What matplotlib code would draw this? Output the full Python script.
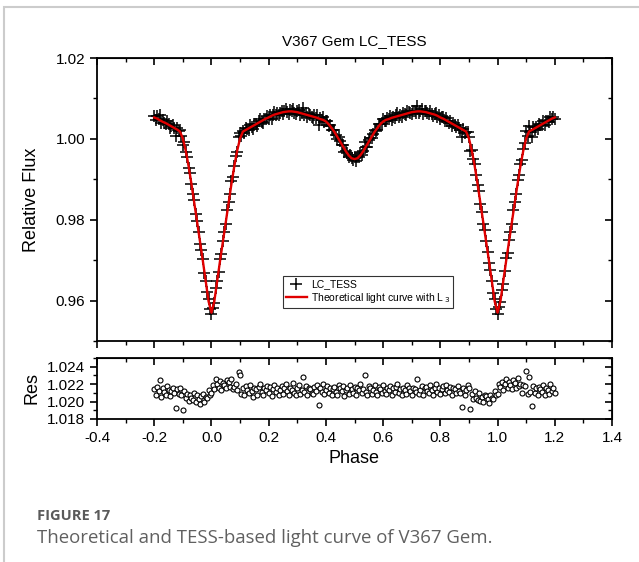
import numpy as np
import matplotlib
matplotlib.use("Agg")
import matplotlib.pyplot as plt
from matplotlib.ticker import MultipleLocator, FormatStrFormatter
from matplotlib.patches import Rectangle

plt.rcParams['font.family'] = ['Liberation Sans', 'DejaVu Sans']

# Data
phase = np.round(np.arange(-0.2, 1.2001, 0.005), 3)

obs_flux = [
    1.0056, 1.0047, 1.0056, 1.0049, 1.0060, 1.0038, 1.0046, 1.0040, 1.0036, 1.0044,
    1.0037, 1.0028, 1.0032, 1.0034, 1.0026, 1.0007, 1.0026, 1.0019, 1.0022, 1.0008,
    0.9984, 0.9992, 0.9968, 0.9955, 0.9927, 0.9915, 0.9889, 0.9864, 0.9848, 0.9813,
    0.9797, 0.9769, 0.9739, 0.9724, 0.9703, 0.9669, 0.9649, 0.9620, 0.9604, 0.9578,
    0.9568, 0.9582, 0.9593, 0.9630, 0.9649, 0.9670, 0.9703, 0.9716, 0.9748, 0.9770,
    0.9790, 0.9824, 0.9845, 0.9864, 0.9896, 0.9906, 0.9934, 0.9957, 0.9968, 1.0005,
    1.0015, 1.0008, 1.0020, 1.0014, 1.0027, 1.0024, 1.0023, 1.0034, 1.0029, 1.0024,
    1.0037, 1.0037, 1.0033, 1.0044, 1.0049, 1.0042, 1.0040, 1.0050, 1.0050, 1.0057,
    1.0050, 1.0059, 1.0050, 1.0059, 1.0066, 1.0059, 1.0065, 1.0058, 1.0064, 1.0070,
    1.0062, 1.0069, 1.0074, 1.0067, 1.0062, 1.0071, 1.0068, 1.0075, 1.0064, 1.0061,
    1.0068, 1.0071, 1.0060, 1.0063, 1.0077, 1.0059, 1.0065, 1.0053, 1.0061, 1.0058,
    1.0053, 1.0051, 1.0058, 1.0052, 1.0058, 1.0034, 1.0051, 1.0046, 1.0054, 1.0041,
    1.0043, 1.0045, 1.0033, 1.0035, 1.0021, 1.0023, 1.0021, 1.0009, 1.0000, 1.0005,
    0.9995, 0.9986, 0.9986, 0.9968, 0.9969, 0.9966, 0.9955, 0.9961, 0.9953, 0.9947,
    0.9954, 0.9945, 0.9954, 0.9955, 0.9966, 0.9960, 0.9970, 0.9993, 0.9979, 0.9981,
    0.9998, 1.0002, 1.0001, 1.0011, 1.0023, 1.0020, 1.0022, 1.0036, 1.0037, 1.0037,
    1.0049, 1.0044, 1.0043, 1.0051, 1.0049, 1.0056, 1.0046, 1.0055, 1.0052, 1.0059,
    1.0063, 1.0054, 1.0059, 1.0054, 1.0063, 1.0061, 1.0058, 1.0069, 1.0066, 1.0064,
    1.0061, 1.0069, 1.0068, 1.0065, 1.0081, 1.0064, 1.0068, 1.0073, 1.0061, 1.0069,
    1.0070, 1.0064, 1.0061, 1.0069, 1.0062, 1.0056, 1.0062, 1.0065, 1.0055, 1.0058,
    1.0049, 1.0053, 1.0055, 1.0045, 1.0052, 1.0044, 1.0040, 1.0044, 1.0032, 1.0039,
    1.0035, 1.0029, 1.0035, 1.0027, 1.0023, 1.0005, 1.0024, 1.0015, 1.0018, 1.0018,
    1.0004, 0.9971, 0.9973, 0.9949, 0.9938, 0.9911, 0.9887, 0.9872, 0.9839, 0.9819,
    0.9789, 0.9774, 0.9748, 0.9721, 0.9692, 0.9676, 0.9648, 0.9619, 0.9603, 0.9579,
    0.9567, 0.9583, 0.9596, 0.9627, 0.9642, 0.9674, 0.9705, 0.9718, 0.9749, 0.9770,
    0.9789, 0.9824, 0.9844, 0.9863, 0.9897, 0.9910, 0.9937, 0.9947, 0.9974, 0.9989,
    1.0020, 1.0008, 1.0033, 1.0018, 1.0004, 1.0029, 1.0023, 1.0030, 1.0024, 1.0036,
    1.0035, 1.0034, 1.0044, 1.0035, 1.0045, 1.0044, 1.0042, 1.0055, 1.0049, 1.0054,
    1.0050,
]

residual = [
    1.0214, 1.0207, 1.0217, 1.0212, 1.0225, 1.0205, 1.0215, 1.0211, 1.0208, 1.0218,
    1.0213, 1.0206, 1.0212, 1.0216, 1.0210, 1.0193, 1.0214, 1.0209, 1.0215, 1.0207,
    1.0190, 1.0212, 1.0204, 1.0209, 1.0201, 1.0208, 1.0204, 1.0202, 1.0210, 1.0199,
    1.0207, 1.0203, 1.0197, 1.0206, 1.0209, 1.0200, 1.0205, 1.0204, 1.0213, 1.0207,
    1.0210, 1.0219, 1.0214, 1.0226, 1.0220, 1.0216, 1.0224, 1.0213, 1.0221, 1.0219,
    1.0215, 1.0225, 1.0222, 1.0217, 1.0226, 1.0214, 1.0217, 1.0220, 1.0213, 1.0234,
    1.0230, 1.0209, 1.0215, 1.0207, 1.0218, 1.0213, 1.0210, 1.0219, 1.0212, 1.0205,
    1.0216, 1.0214, 1.0208, 1.0217, 1.0220, 1.0211, 1.0207, 1.0215, 1.0213, 1.0218,
    1.0210, 1.0217, 1.0206, 1.0214, 1.0219, 1.0211, 1.0216, 1.0208, 1.0213, 1.0218,
    1.0209, 1.0215, 1.0220, 1.0212, 1.0207, 1.0216, 1.0213, 1.0221, 1.0210, 1.0208,
    1.0215, 1.0219, 1.0209, 1.0213, 1.0228, 1.0211, 1.0218, 1.0207, 1.0216, 1.0214,
    1.0210, 1.0209, 1.0217, 1.0212, 1.0219, 1.0196, 1.0215, 1.0211, 1.0220, 1.0209,
    1.0213, 1.0218, 1.0210, 1.0216, 1.0207, 1.0214, 1.0217, 1.0211, 1.0208, 1.0219,
    1.0215, 1.0212, 1.0218, 1.0206, 1.0213, 1.0216, 1.0209, 1.0219, 1.0214, 1.0210,
    1.0217, 1.0208, 1.0215, 1.0213, 1.0220, 1.0210, 1.0214, 1.0231, 1.0211, 1.0207,
    1.0218, 1.0216, 1.0209, 1.0213, 1.0219, 1.0211, 1.0208, 1.0217, 1.0214, 1.0210,
    1.0219, 1.0212, 1.0209, 1.0216, 1.0213, 1.0218, 1.0207, 1.0215, 1.0211, 1.0217,
    1.0220, 1.0210, 1.0214, 1.0208, 1.0216, 1.0213, 1.0209, 1.0219, 1.0215, 1.0212,
    1.0208, 1.0216, 1.0214, 1.0211, 1.0226, 1.0209, 1.0213, 1.0218, 1.0207, 1.0215,
    1.0217, 1.0212, 1.0210, 1.0219, 1.0213, 1.0208, 1.0215, 1.0220, 1.0211, 1.0216,
    1.0209, 1.0214, 1.0218, 1.0210, 1.0219, 1.0213, 1.0211, 1.0217, 1.0207, 1.0216,
    1.0214, 1.0210, 1.0218, 1.0212, 1.0210, 1.0194, 1.0215, 1.0208, 1.0213, 1.0219,
    1.0216, 1.0191, 1.0209, 1.0203, 1.0212, 1.0204, 1.0202, 1.0210, 1.0201, 1.0205,
    1.0199, 1.0208, 1.0206, 1.0203, 1.0198, 1.0207, 1.0204, 1.0203, 1.0212, 1.0208,
    1.0209, 1.0220, 1.0217, 1.0223, 1.0213, 1.0220, 1.0226, 1.0215, 1.0222, 1.0219,
    1.0214, 1.0225, 1.0221, 1.0216, 1.0227, 1.0218, 1.0220, 1.0210, 1.0219, 1.0218,
    1.0235, 1.0209, 1.0228, 1.0211, 1.0195, 1.0218, 1.0210, 1.0215, 1.0207, 1.0217,
    1.0214, 1.0211, 1.0219, 1.0208, 1.0216, 1.0213, 1.0209, 1.0220, 1.0212, 1.0215,
    1.0210,
]

model_phase = np.round(np.arange(-0.2, 1.2001, 0.01), 2)
model_flux = [
    1.0053, 1.0050, 1.0046, 1.0042, 1.0039, 1.0035, 1.0031, 1.0027, 1.0023, 1.0018,
    1.0001, 0.9971, 0.9933, 0.9889, 0.9842, 0.9794, 0.9746, 0.9698, 0.9648, 0.9598,
    0.9570, 0.9598, 0.9648, 0.9698, 0.9746, 0.9794, 0.9842, 0.9889, 0.9933, 0.9971,
    1.0001, 1.0018, 1.0022, 1.0026, 1.0030, 1.0034, 1.0038, 1.0042, 1.0046, 1.0050,
    1.0053, 1.0057, 1.0060, 1.0062, 1.0064, 1.0066, 1.0067, 1.0068, 1.0068, 1.0067,
    1.0066, 1.0064, 1.0062, 1.0060, 1.0058, 1.0056, 1.0054, 1.0052, 1.0049, 1.0047,
    1.0043, 1.0036, 1.0027, 1.0017, 1.0005, 0.9993, 0.9981, 0.9969, 0.9959, 0.9952,
    0.9950, 0.9952, 0.9959, 0.9969, 0.9981, 0.9993, 1.0005, 1.0017, 1.0027, 1.0036,
    1.0043, 1.0047, 1.0049, 1.0052, 1.0054, 1.0056, 1.0058, 1.0060, 1.0062, 1.0064,
    1.0066, 1.0067, 1.0068, 1.0068, 1.0067, 1.0066, 1.0064, 1.0062, 1.0060, 1.0057,
    1.0053, 1.0050, 1.0046, 1.0042, 1.0038, 1.0034, 1.0030, 1.0026, 1.0022, 1.0018,
    1.0001, 0.9971, 0.9933, 0.9889, 0.9842, 0.9794, 0.9746, 0.9698, 0.9648, 0.9598,
    0.9570, 0.9598, 0.9648, 0.9698, 0.9746, 0.9794, 0.9842, 0.9889, 0.9933, 0.9971,
    1.0001, 1.0018, 1.0022, 1.0026, 1.0030, 1.0034, 1.0038, 1.0042, 1.0046, 1.0050,
    1.0053,
]

fig = plt.figure(figsize=(6.39, 5.62), dpi=100)

# light gray frame around the figure panel
fig.patches.append(Rectangle((4 / 639, -0.1), 1.1, (562 - 7) / 562 + 0.1,
                             transform=fig.transFigure, fill=False,
                             edgecolor='#cccccc', linewidth=1.5))

ax = fig.add_axes([97 / 639, (562 - 341) / 562, 515 / 639, 283 / 562])
ax_res = fig.add_axes([97 / 639, (562 - 419) / 562, 515 / 639, 61 / 562])

# Light curve
ax.plot(phase, obs_flux, linestyle='none', marker='+', color='black',
        markersize=8.5, markeredgewidth=1.1, label='LC_TESS')
ax.plot(model_phase, model_flux, color='#e00000', linewidth=1.7,
        label='Theoretical light curve with L$\\,_3$')
ax.set_xlim(-0.4, 1.4)
ax.set_ylim(0.95, 1.02)
ax.set_title('V367 Gem LC_TESS', fontsize=11, pad=9)
ax.set_ylabel('Relative Flux', fontsize=13)
ax.yaxis.set_label_coords(-0.11, 0.5)
ax.yaxis.set_major_locator(MultipleLocator(0.02))
ax.yaxis.set_minor_locator(MultipleLocator(0.01))
ax.yaxis.set_major_formatter(FormatStrFormatter('%.2f'))
ax.tick_params(labelbottom=False)

leg = ax.legend(loc='lower left', bbox_to_anchor=(0.361, 0.117),
                fontsize=7.5, frameon=True, fancybox=False,
                edgecolor='black', borderaxespad=0,
                handlelength=2.0, handletextpad=0.4,
                borderpad=0.3, labelspacing=0.15)
leg.get_frame().set_linewidth(0.8)

# Residuals
ax_res.plot(phase, residual, linestyle='none', marker='o', markersize=3.6,
            markerfacecolor='white', markeredgecolor='black',
            markeredgewidth=0.8)
ax_res.set_xlim(-0.4, 1.4)
ax_res.set_ylim(1.018, 1.025)
ax_res.set_ylabel('Res', fontsize=13)
ax_res.yaxis.set_label_coords(-0.11, 0.5)
ax_res.set_xlabel('Phase', fontsize=13)
ax_res.yaxis.set_major_locator(MultipleLocator(0.002))
ax_res.yaxis.set_minor_locator(MultipleLocator(0.001))
ax_res.yaxis.set_major_formatter(FormatStrFormatter('%.3f'))
ax_res.xaxis.set_major_formatter(FormatStrFormatter('%.1f'))

for a in (ax, ax_res):
    a.xaxis.set_major_locator(MultipleLocator(0.2))
    a.xaxis.set_minor_locator(MultipleLocator(0.1))
    for s in a.spines.values():
        s.set_linewidth(1.3)
    a.tick_params(which='major', direction='out', length=5, width=1.2,
                  labelsize=11)
    a.tick_params(which='minor', direction='out', length=3, width=1.0)
    # mirrored ticks pointing inward on top and right
    top = a.secondary_xaxis('top')
    top.xaxis.set_major_locator(MultipleLocator(0.2))
    top.xaxis.set_minor_locator(MultipleLocator(0.1))
    top.tick_params(which='major', direction='in', length=5, width=1.2,
                    labeltop=False)
    top.tick_params(which='minor', direction='in', length=3, width=1.0)
    right = a.secondary_yaxis('right')
    right.yaxis.set_major_locator(a.yaxis.get_major_locator())
    right.yaxis.set_minor_locator(a.yaxis.get_minor_locator())
    right.tick_params(which='major', direction='in', length=5, width=1.2,
                      labelright=False)
    right.tick_params(which='minor', direction='in', length=3, width=1.0)

# Caption
fig.text(37 / 639, 1 - 516 / 562, 'FIGURE 17', fontsize=10.5,
         fontweight='bold', color='#5a5a5a', family=['Open Sans'],
         va='center', ha='left')
fig.text(37 / 639, 1 - 538 / 562,
         'Theoretical and TESS-based light curve of V367 Gem.',
         fontsize=13.4, color='#606060', family=['Open Sans'],
         va='center', ha='left')

fig.savefig('out.png', dpi=100)
